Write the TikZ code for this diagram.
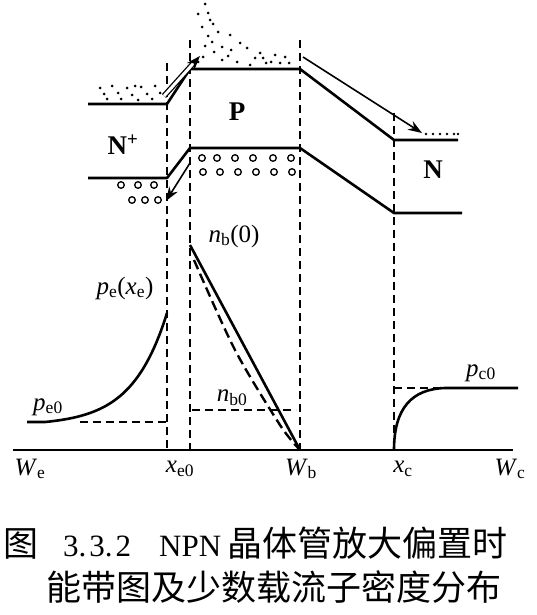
\documentclass[tikz,border=0pt]{standalone}
\usepackage{fontspec}
\setmainfont{Liberation Serif}
\newfontfamily\cjk{Noto Sans CJK SC}
\usetikzlibrary{arrows.meta,positioning}
\tikzset{
  bandline/.style={line width=2.6pt,line join=round},
  guide/.style={line width=1.8pt,dash pattern=on 8pt off 5pt},
  profile/.style={line width=2.6pt},
  dprofile/.style={line width=2.4pt,dash pattern=on 10pt off 5pt},
  refline/.style={line width=1.4pt,dash pattern=on 8pt off 5pt},
  axisline/.style={line width=1.8pt},
  holecirc/.style={line width=1.3pt},
  flowarr/.style={-{Stealth[length=14pt,width=10pt]},line width=1.6pt},
  lbl/.style={font=\fontsize{25}{28}\selectfont,inner sep=0pt},
  region/.style={font=\fontsize{27}{30}\selectfont\bfseries,inner sep=0pt},
  captext/.style={font=\fontsize{35}{40}\selectfont,inner sep=0pt,anchor=west}
}
\newcommand{\sym}[2]{\textit{#1}\textsubscript{#2}}

\begin{document}
\begin{tikzpicture}[x=1pt,y=-1pt]
  \useasboundingbox (0,0) rectangle (536,615);

  %% band corners
  \coordinate (cbL) at (88,104);
  \coordinate (cbJe) at (167,104);
  \coordinate (cbPl) at (190,69);
  \coordinate (cbPr) at (300,69);
  \coordinate (cbJc) at (394,140);
  \coordinate (cbR) at (458,140);
  \coordinate (vbL) at (88,178);
  \coordinate (vbJe) at (167,178);
  \coordinate (vbPl) at (190,148);
  \coordinate (vbPr) at (300,148);
  \coordinate (vbJc) at (394,213);
  \coordinate (vbR) at (462,213);

  %% boundaries on the axis
  \coordinate (We) at (13,450);
  \coordinate (xe0) at (167,450);
  \coordinate (xp) at (190,450);
  \coordinate (Wb) at (300,450);
  \coordinate (xc) at (394,450);
  \coordinate (Wc) at (513,450);

  %% dashed region boundaries
  \draw[guide] (167,63) -- (xe0);
  \draw[guide] (190,40) -- (xp);
  \draw[guide] (300,40) -- (Wb);
  \draw[guide] (394,113) -- (xc);

  %% conduction and valence bands
  \draw[bandline] (cbL) -- (cbJe) -- (cbPl) -- (cbPr) -- (cbJc) -- (cbR);
  \draw[bandline] (vbL) -- (vbJe) -- (vbPl) -- (vbPr) -- (vbJc) -- (vbR);

  %% region names
  \node[region] (nplus) at (123,145) {N\textsuperscript{+}};
  \node[region] (preg) at (237,112) {P};
  \node[region] (nreg) at (433,170) {N};

  %% electrons
  \foreach \px/\py in {100/88,107/99,112/86,118/93,121/99,127/88,132/95,138/100,
      141/87,147/94,152/99,155/86,160/93,104/94,135/86}
    \fill (\px,\py) circle (1.5pt);
  \foreach \px/\py in {205/4,198/14,208/13,210/20,202/27,213/24,218/32,208/36,
      230/35,212/42,222/47,231/50,240/43,247/48,214/52,203/57,222/60,237/62,
      250/65,260/53,263/58,266/63,275/55,285/57,289/63,205/46,198/62,271/62,
      280/63,255/58,228/56}
    \fill (\px,\py) circle (1.5pt);
  \foreach \px in {426,433,440,447,454,458}
    \fill (\px,134) circle (1.4pt);

  %% holes
  \foreach \hx in {202,217,235,253,273,291}
    \draw[holecirc] (\hx,158) circle (3.3pt);
  \foreach \hx in {203,220,238,256,274,292}
    \draw[holecirc] (\hx,172) circle (3.3pt);
  \foreach \hx in {121,138,154}
    \draw[holecirc] (\hx,185) circle (3.3pt);
  \foreach \hx in {132,145,158}
    \draw[holecirc] (\hx,200) circle (3.3pt);

  %% carrier flow
  \coordinate (injA) at (164,96);
  \coordinate (injB) at (200,56);
  \coordinate (colA) at (303,57);
  \coordinate (colB) at (422,133);
  \coordinate (hinA) at (190,163);
  \coordinate (hinB) at (166,201);
  \draw[flowarr,double,double distance=3pt,line width=1.3pt] (injA) -- (injB);
  \draw[flowarr] (colA) -- (colB);
  \draw[flowarr] (hinA) -- (hinB);

  %% axis
  \draw[axisline] (We) -- (Wc);

  %% emitter holes
  \draw[profile] (27,422) -- (45,422) -- plot[domain=45:167,samples=50,smooth]
    (\x,{422-109*(exp((\x-45)/35)-1)/(exp(122/35)-1)});
  \draw[refline] (80,422) -- (167,422);

  %% base electrons
  \coordinate (nb0top) at (190,245);
  \draw[profile] (nb0top) -- (Wb);
  \draw[dprofile] plot[smooth] coordinates {(194,260) (235,350) (280,425) (Wb)};
  \draw[refline] (192,410) -- (296,410);

  %% collector holes
  \coordinate (pcflat) at (445,388);
  \draw[profile] (xc) .. controls (394,408) and (412,389) .. (pcflat) -- (518,388);
  \draw[refline] (394,388) -- (pcflat);

  %% curve labels
  \node[lbl] (lpe0) at (48,407) {\sym{p}{e0}};
  \node[lbl] (lpexe) at (125,288) {\sym{p}{e}(\sym{x}{e})};
  \node[lbl] (lnb0x) at (234,236) {\sym{n}{b}(0)};
  \node[lbl] (lnb0) at (232,398) {\sym{n}{b0}};
  \node[lbl] (lpc0) at (481,373) {\sym{p}{c0}};

  %% axis labels
  \node[lbl] (lWe) at (30,469) {\sym{W}{e}};
  \node[lbl] (lxe0) at (180,469) {\sym{x}{e0}};
  \node[lbl] (lWb) at (301,469) {\sym{W}{b}};
  \node[lbl] (lxc) at (403,469) {\sym{x}{c}};
  \node[lbl] (lWc) at (510,469) {\sym{W}{c}};

  %% caption
  \node[captext] (cap1) at (3,543)
    {{\cjk 图}\hspace{25pt}{\fontsize{31}{34}\selectfont 3.\kern3pt3.\kern3pt2\hspace{28pt}NPN}\hspace{6pt}{\cjk 晶体管放大偏置时}};
  \node[captext] (cap2) at (46,587) {\cjk 能带图及少数载流子密度分布};

\end{tikzpicture}
\end{document}
